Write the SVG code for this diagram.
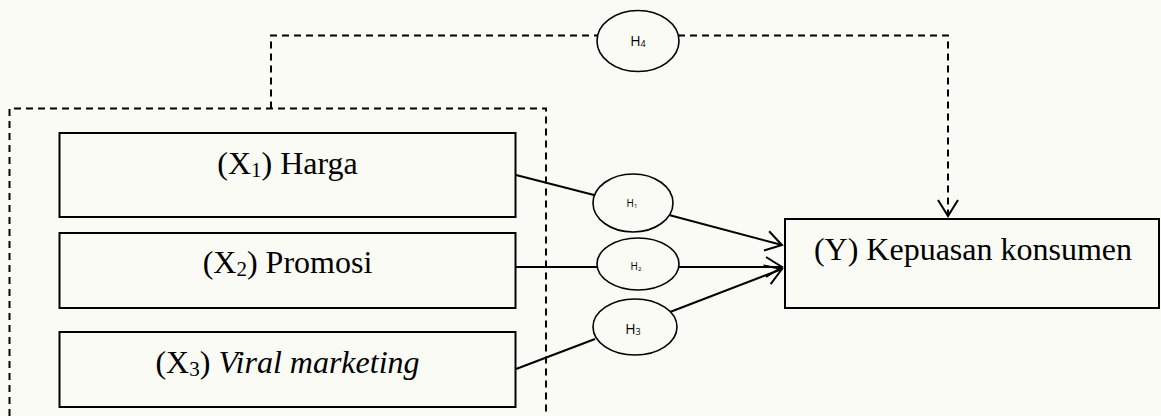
<svg xmlns="http://www.w3.org/2000/svg" width="1161" height="416" viewBox="0 0 1161 416">
  <style>
    .box { fill: none; stroke: #000; stroke-width: 2; }
    .ell { fill: none; stroke: #000; stroke-width: 1.6; }
    .solid { fill: none; stroke: #000; stroke-width: 2; }
    .dash { fill: none; stroke: #000; stroke-width: 2; stroke-dasharray: 7 5; }
    .lbl { font-family: "Liberation Serif", "Times New Roman", serif; font-size: 32px; fill: #000; text-anchor: middle; }
    .h { font-family: "Open Sans", "Liberation Sans", sans-serif; fill: #000; text-anchor: middle; }
  </style>
  <defs>
    <marker id="arr" markerWidth="20" markerHeight="24" refX="18" refY="11" orient="auto" markerUnits="userSpaceOnUse" overflow="visible">
      <path d="M2,1 L18,11 L2,21" fill="none" stroke="#000" stroke-width="2"/>
    </marker>
  </defs>
  <rect width="1161" height="416" fill="#fbfbf6"/>

  <g id="connectors">
    <path class="dash" d="M9.5,416 V108.5 H546 V412"/>
    <path class="dash" d="M271,108.5 V35.5 H598"/>
    <path class="dash" d="M678,35.5 H948 V216" marker-end="url(#arr)"/>
    <path class="solid" d="M516,175 L594,195"/>
    <path class="solid" d="M669,215 L782,245" marker-end="url(#arr)"/>
    <path class="solid" d="M516,267 L597,267"/>
    <path class="solid" d="M679,267 L782,267" marker-end="url(#arr)"/>
    <path class="solid" d="M516,369 L595,339"/>
    <path class="solid" d="M670,312 L782,269" marker-end="url(#arr)"/>
  </g>

  <g id="x1">
    <rect class="box" x="59.5" y="133" width="456" height="84"/>
    <text class="lbl" x="287.5" y="174">(X<tspan font-size="21" dy="3">1</tspan><tspan dy="-3">) Harga</tspan></text>
  </g>
  <g id="x2">
    <rect class="box" x="59.5" y="233" width="456" height="75"/>
    <text class="lbl" x="287.5" y="273">(X<tspan font-size="21" dy="3">2</tspan><tspan dy="-3">) Promosi</tspan></text>
  </g>
  <g id="x3">
    <rect class="box" x="59.5" y="332" width="456" height="75"/>
    <text class="lbl" x="287.5" y="373">(X<tspan font-size="21" dy="3">3</tspan><tspan dy="-3">) </tspan><tspan font-style="italic">Viral marketing</tspan></text>
  </g>
  <g id="y">
    <rect class="box" x="785" y="219" width="374" height="89"/>
    <text class="lbl" x="973" y="260">(Y) Kepuasan konsumen</text>
  </g>

  <g id="h1">
    <ellipse class="ell" cx="633" cy="203" rx="40" ry="29"/>
    <text class="h" x="632" y="207" font-size="10">H<tspan font-size="6" dy="1">1</tspan></text>
  </g>
  <g id="h2">
    <ellipse class="ell" cx="638" cy="264" rx="41" ry="26"/>
    <text class="h" x="636" y="270" font-size="10">H<tspan font-size="6" dy="1">2</tspan></text>
  </g>
  <g id="h3">
    <ellipse class="ell" cx="635" cy="327" rx="42" ry="28"/>
    <text class="h" x="633" y="334" font-size="14">H<tspan font-size="9" dy="1">3</tspan></text>
  </g>
  <g id="h4">
    <ellipse class="ell" cx="638" cy="41" rx="41" ry="30.5"/>
    <text class="h" x="638" y="46" font-size="14">H<tspan font-size="9" dy="1">4</tspan></text>
  </g>
</svg>
